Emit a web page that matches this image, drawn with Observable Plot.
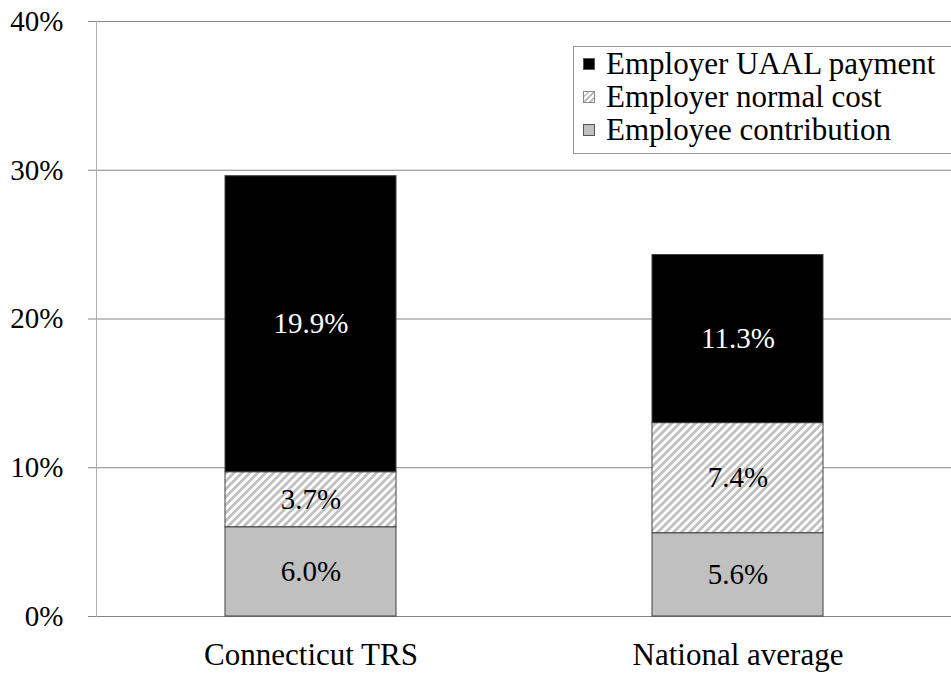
<!DOCTYPE html>
<html>
<head>
<meta charset="utf-8">
<script src="https://cdn.jsdelivr.net/npm/d3@7"></script>
<script src="https://cdn.jsdelivr.net/npm/@observablehq/plot@0.6"></script>
<style>
  html, body { margin: 0; padding: 0; background: #fff; overflow: hidden; }
  #wrap { position: relative; width: 951px; height: 673px; }
  #legend { position: absolute; left: 573px; top: 46px; width: 400px; height: 108px; border: 1px solid #9a9a9a; background: #fff; box-sizing: border-box; padding-top: 0px; }
  .item { display: flex; align-items: center; height: 33px; font-size: 31px; line-height: 33px; color: #000; white-space: nowrap; }
  .sw { width: 12px; height: 12px; margin-left: 9px; margin-right: 11px; border: 1px solid #555; box-sizing: border-box; flex: none; }
</style>
</head>
<body>
<div id="wrap"></div>
<script>
const categories = ["Connecticut TRS", "National average"];
const series = ["Employee contribution", "Employer normal cost", "Employer UAAL payment"];
const employeeContribution = [6.0, 5.6];
const employerNormalCost = [3.7, 7.4];
const employerUAAL = [19.9, 11.3];
const yTicks = [0, 10, 20, 30, 40];

const seriesValues = [employeeContribution, employerNormalCost, employerUAAL];
const fills = ["#c0c0c0", "url(#hatch)", "#000000"];
const textColors = ["#000000", "#000000", "#ffffff"];
const FONT = "Liberation Serif";

const data = [];
categories.forEach((c, i) => {
  series.forEach((s, j) => {
    data.push({category: c, series: s, value: seriesValues[j][i], si: j});
  });
});

const chart = Plot.plot({
  width: 951,
  height: 673,
  marginLeft: 96,
  marginRight: 0,
  marginTop: 21,
  marginBottom: 57,
  style: {fontSize: "29px", background: "#fff", color: "#000"},
  x: {domain: categories, paddingInner: 0.6, paddingOuter: 0.3, label: null},
  y: {domain: [0, 40], label: null},
  color: {domain: series, range: fills},
  marks: [
    Plot.gridY(yTicks, {stroke: "#868686", strokeOpacity: 1}),
    Plot.barY(data, Plot.stackY({x: "category", y: "value", fill: "series", order: series, stroke: "#404040", strokeWidth: 1})),
    Plot.text(data, Plot.stackY({x: "category", y: "value", order: series, text: d => d.value.toFixed(1) + "%", fill: d => textColors[d.si], fontSize: 29})),
    Plot.axisY({ticks: yTicks, tickFormat: d => d + "%", tickSize: 8, tickPadding: 25, stroke: "#868686", fontSize: 29, label: null}),
    Plot.axisX({tickSize: 0, tickPadding: 26, fontSize: 31, label: null}),
    Plot.frame({anchor: "left", stroke: "#b0b0b0"})
  ]
});

chart.style.fontFamily = FONT;
d3.select(chart).selectAll("text, g").attr("font-family", FONT).style("font-family", FONT);

d3.select(chart).insert("defs", ":first-child").html(
  '<pattern id="hatch" width="5.6" height="5.6" patternUnits="userSpaceOnUse" patternTransform="rotate(45)">' +
  '<rect width="5.6" height="5.6" fill="#ffffff"></rect>' +
  '<rect width="2.8" height="5.6" fill="#c0c0c0"></rect></pattern>'
);

const wrap = document.getElementById("wrap");
wrap.appendChild(chart);

const legend = document.createElement("div");
legend.id = "legend";
legend.style.fontFamily = FONT;
[2, 1, 0].forEach(j => {
  const item = document.createElement("div");
  item.className = "item";
  item.style.fontFamily = FONT;
  const sw = document.createElement("div");
  sw.className = "sw";
  if (j === 1) {
    sw.style.background = "repeating-linear-gradient(-45deg, #fff 0 2px, #c0c0c0 2px 4px)";
    sw.style.borderColor = "#888";
  } else {
    sw.style.background = fills[j];
  }
  const label = document.createElement("span");
  label.style.fontFamily = FONT;
  label.textContent = series[j];
  item.appendChild(sw);
  item.appendChild(label);
  legend.appendChild(item);
});
wrap.appendChild(legend);
</script>
</body>
</html>
